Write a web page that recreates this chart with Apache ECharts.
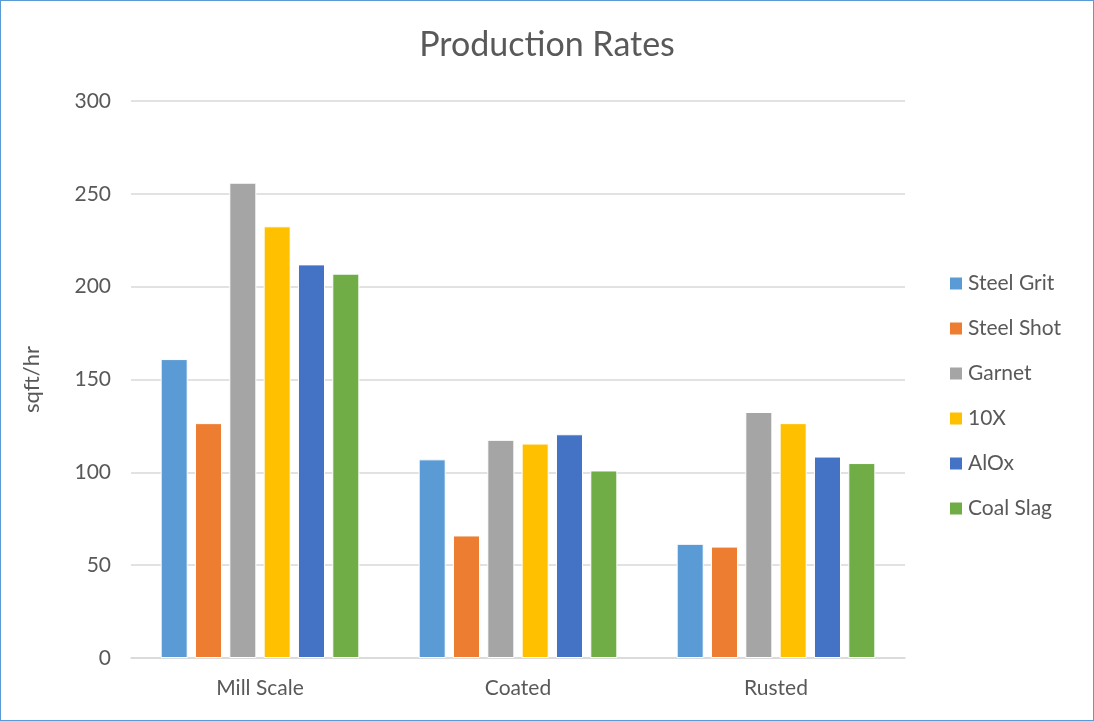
<!DOCTYPE html>
<html>
<head>
<meta charset="utf-8">
<script src="https://cdn.jsdelivr.net/npm/echarts@6/dist/echarts.min.js"></script>
<style>
  html, body { margin: 0; padding: 0; background: #fff; }
  #chart { width: 1094px; height: 721px; box-sizing: border-box; border: 1px solid #5b9bd5; }
</style>
</head>
<body>
<div id="chart"></div>
<script>
// categories and series
var categories = ['Mill Scale', 'Coated', 'Rusted'];
var steelGrit = [161, 107, 61.5];
var steelShot = [126.5, 66, 60];
var garnet = [256, 117.5, 132.5];
var tenX = [232.5, 115.5, 126.5];
var alOx = [212, 120.5, 108.5];
var coalSlag = [207, 101, 105];
var yTicks = [0, 50, 100, 150, 200, 250, 300];

var seriesNames = ['Steel Grit', 'Steel Shot', 'Garnet', '10X', 'AlOx', 'Coal Slag'];
var seriesData = [steelGrit, steelShot, garnet, tenX, alOx, coalSlag];
var colors = ['#5B9BD5', '#ED7D31', '#A5A5A5', '#FFC000', '#4472C4', '#70AD47'];

var font = 'Lato, "Open Sans", sans-serif';

var myChart = echarts.init(document.getElementById('chart'));
myChart.setOption({
    color: colors,
    animation: false,
    title: {
        text: 'Production Rates',
        left: 'center',
        top: 22,
        textStyle: { fontFamily: font, fontSize: 34, fontWeight: 'normal', color: '#595959' }
    },
    legend: {
        orient: 'vertical',
        left: 942,
        top: 267,
        itemWidth: 14,
        itemHeight: 14,
        itemGap: 24,
        icon: 'rect',
        data: seriesNames,
        textStyle: { fontFamily: font, fontSize: 21, color: '#595959' }
    },
    grid: { left: 130, right: 188, top: 100, bottom: 62 },
    xAxis: {
        type: 'category',
        data: categories,
        axisTick: { show: false },
        axisLine: { lineStyle: { color: '#d9d9d9', width: 1.5 } },
        axisLabel: { fontFamily: font, fontSize: 21, color: '#595959', margin: 20 }
    },
    yAxis: {
        type: 'value',
        min: yTicks[0],
        max: yTicks[yTicks.length - 1],
        interval: 50,
        name: 'sqft/hr',
        nameLocation: 'middle',
        nameGap: 88,
        nameTextStyle: { fontFamily: font, fontSize: 22, color: '#595959' },
        axisLine: { show: false },
        axisTick: { show: false },
        axisLabel: { fontFamily: font, fontSize: 21, color: '#595959', margin: 20 },
        splitLine: { lineStyle: { color: '#d9d9d9', width: 1.5 } }
    },
    series: seriesNames.map(function (name, i) {
        return {
            name: name,
            type: 'bar',
            data: seriesData[i],
            barCategoryGap: '23%',
            barGap: '27%',
            itemStyle: { borderColor: '#ffffff', borderWidth: 1 }
        };
    })
});
</script>
</body>
</html>
